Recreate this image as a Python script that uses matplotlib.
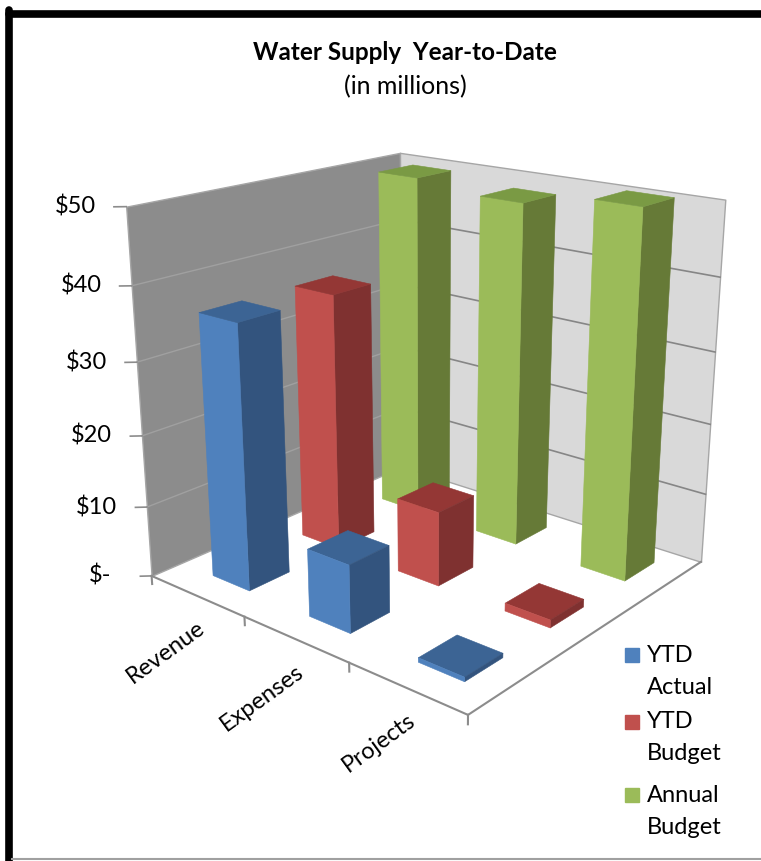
import numpy as np
import matplotlib.pyplot as plt
from matplotlib.lines import Line2D
from matplotlib.patches import Rectangle
from mpl_toolkits.mplot3d import proj3d
from mpl_toolkits.mplot3d.art3d import Poly3DCollection

plt.rcParams['font.family'] = ['Lato', 'DejaVu Sans']

# data (in millions)
categories = ['Revenue', 'Expenses', 'Projects']
series = ['YTD Actual', 'YTD Budget', 'Annual Budget']
legend_lines = [['YTD', 'Actual'], ['YTD', 'Budget'], ['Annual', 'Budget']]
ytd_actual = [36.5, 9.3, 0.6]
ytd_budget = [36.5, 10.5, 1.1]
annual_budget = [49.5, 48.4, 50.3]
z_ticks = [0, 10, 20, 30, 40, 50]
z_labels = ['$-', '$10', '$20', '$30', '$40', '$50']

front_cols = ['#4f81bd', '#c0504d', '#9bbb59']
side_cols = ['#33547e', '#7f3130', '#667a37']
top_cols = ['#3c6494', '#943735', '#7a9a44']

values = [ytd_actual, ytd_budget, annual_budget]
n_cat, n_ser = len(categories), len(series)
zmax = z_ticks[-1]

elev, azim = 19, -50
box = (1.06, 1.0, 0.98)

fig = plt.figure(figsize=(7.61, 8.61), dpi=100)
ax = fig.add_axes([0.052, 0.142, 1.0, 0.78], projection='3d')
ax.computed_zorder = False
ax.set_xlim(0, n_cat)
ax.set_ylim(0, n_ser)
ax.set_zlim(0, zmax)
ax.set_box_aspect(box, zoom=1.0)
ax.view_init(elev=elev, azim=azim)
ax.set_proj_type('persp', focal_length=0.4)
ax.set_axis_off()
M = ax.get_proj()


def to2d(x, y, z):
    xs, ys, _ = proj3d.proj_transform(x, y, z, M)
    return xs, ys


# walls
left_wall = [[(0, 0, 0), (0, n_ser, 0), (0, n_ser, zmax), (0, 0, zmax)]]
back_wall = [[(0, n_ser, 0), (n_cat, n_ser, 0), (n_cat, n_ser, zmax), (0, n_ser, zmax)]]
ax.add_collection3d(Poly3DCollection(left_wall, facecolor='#8c8c8c',
                                     edgecolor='#a6a6a6', linewidth=1, zorder=1))
ax.add_collection3d(Poly3DCollection(back_wall, facecolor='#d9d9d9',
                                     edgecolor='#a6a6a6', linewidth=1, zorder=1))

# gridlines
for z in z_ticks[1:-1]:
    ax.plot([0, 0], [0, n_ser], [z, z], color='#a0a0a0', lw=1, zorder=2)
    ax.plot([0, n_cat], [n_ser, n_ser], [z, z], color='#868686', lw=1.2, zorder=2)

# floor edges and ticks
ax.plot([0, n_cat], [0, 0], [0, 0], color='#8c8c8c', lw=1.5, zorder=2)
ax.plot([n_cat, n_cat], [0, n_ser], [0, 0], color='#8c8c8c', lw=1.5, zorder=2)
for i in range(n_cat + 1):
    ax.plot([i, i], [0, 0], [0, -1.2], color='#8c8c8c', lw=1.5, zorder=2)

# value axis ticks and labels (accounting style, padded on the right)
for z, lab in zip(z_ticks, z_labels):
    ax.plot([0, -0.06], [0, -0.06], [z, z], color='#8c8c8c', lw=1.2, zorder=2)
    pad = 40 if lab == '$-' else 30
    ax.annotate(lab, xy=to2d(0, 0, z), xycoords='data', xytext=(-pad, 0),
                textcoords='offset pixels', ha='right', va='center',
                fontsize=17, annotation_clip=False)

# category labels
for i, cat in enumerate(categories):
    ax.annotate(cat, xy=to2d(i + 0.5, 0, 0), xycoords='data', xytext=(6, -30),
                textcoords='offset pixels', rotation=36, rotation_mode='anchor',
                ha='right', va='center', fontsize=17, annotation_clip=False)

# bars, drawn back to front
wx, wy = 0.39, 0.43
ca, sa = np.cos(np.radians(azim)), np.sin(np.radians(azim))
bars = []
for j in range(n_ser):
    for i in range(n_cat):
        xc, yc = i + 0.54, j + 0.53
        bars.append((xc * box[0] * ca + yc * box[1] * sa, xc, yc, i, j))
bars.sort()
none = (0, 0, 0, 0)
for k, (_, xc, yc, i, j) in enumerate(bars):
    # face order: -z, +z, -y, +y, -x, +x
    cols = [none, top_cols[j], front_cols[j], none, none, side_cols[j]]
    ax.bar3d(xc - wx / 2, yc - wy / 2, 0, wx, wy, values[j][i],
             color=cols, edgecolor=cols, linewidth=0.4, shade=False,
             zorder=10 + k)

# titles
fig.text(405 / 761, 1 - 52 / 861, 'Water Supply  Year-to-Date', ha='center',
         va='center', fontsize=17.5, fontweight='bold')
fig.text(405 / 761, 1 - 87 / 861, '(in millions)', ha='center', va='center',
         fontsize=18)

# legend
leg_y = [655, 722, 795]
for j in range(n_ser):
    y0 = leg_y[j]
    fig.patches.append(Rectangle((625 / 761, 1 - (y0 + 7) / 861), 14 / 761, 14 / 861,
                                 transform=fig.transFigure, color=front_cols[j]))
    fig.text(647 / 761, 1 - y0 / 861, legend_lines[j][0], va='center', fontsize=17)
    fig.text(647 / 761, 1 - (y0 + 32) / 861, legend_lines[j][1], va='center', fontsize=17)

# chart frame
fig.add_artist(Line2D([8.5 / 761, 8.5 / 761], [0, 1 - 10 / 861], color='black',
                      lw=5.5, solid_capstyle='round', transform=fig.transFigure))
fig.add_artist(Line2D([8.5 / 761, 1], [1 - 13.5 / 861, 1 - 13.5 / 861], color='black',
                      lw=5.5, solid_capstyle='round', transform=fig.transFigure))
fig.add_artist(Line2D([12 / 761, 1], [1 - 859 / 861, 1 - 859 / 861], color='#a0a0a0',
                      lw=1.5, transform=fig.transFigure))

fig.savefig('out.png', dpi=100)
